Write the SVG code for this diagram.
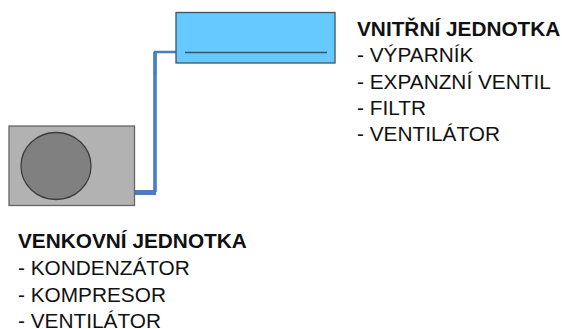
<svg xmlns="http://www.w3.org/2000/svg" width="562" height="329" viewBox="0 0 562 329">
<style>
text{font-family:"Liberation Sans",Arial,sans-serif;font-size:20.800px;fill:#111}
.b{font-weight:bold}
.pipe{fill:none;stroke:#4a7ec4;stroke-linejoin:round}
</style>
<rect width="562" height="329" fill="#fff"/>
<g id="connectors">
<path class="pipe" stroke-width="2.600" d="M176 52H155V75"/>
<path class="pipe" stroke-width="3.600" d="M155 52V192"/>
<path class="pipe" stroke-width="5" d="M134 192.500H156"/>
</g>
<g id="indoor-unit">
<rect x="176" y="12.500" width="159" height="50.500" fill="#66c9ff" stroke="#3f5360" stroke-width="1.300"/>
<line x1="185" y1="52.500" x2="327" y2="52.500" stroke="#2f5a70" stroke-width="1.500"/>
<text class="b" x="357" y="35.500">VNITŘNÍ JEDNOTKA</text>
<text x="357" y="62">- VÝPARNÍK</text>
<text x="357" y="88.500">- EXPANZNÍ VENTIL</text>
<text x="357" y="115">- FILTR</text>
<text x="357" y="141">- VENTILÁTOR</text>
</g>
<g id="outdoor-unit">
<rect x="9" y="126" width="125.500" height="79.500" fill="#b2b2b2" stroke="#666" stroke-width="1.300"/>
<ellipse cx="56" cy="166" rx="35" ry="33.500" fill="#808080" stroke="#3c3c3c" stroke-width="1.300"/>
<text class="b" x="18" y="248">VENKOVNÍ JEDNOTKA</text>
<text x="18" y="275">- KONDENZÁTOR</text>
<text x="18" y="301.500">- KOMPRESOR</text>
<text x="18" y="327.500">- VENTILÁTOR</text>
</g>
</svg>
